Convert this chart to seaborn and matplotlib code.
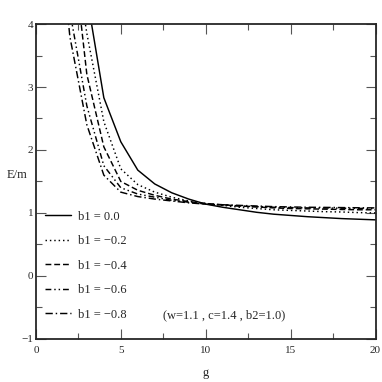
import seaborn as sns
import matplotlib.pyplot as plt
import pandas as pd

# values (E/m against g), above 4 is clipped by the axes
g = [1, 2, 3, 4, 5, 6, 7, 8, 9, 10, 11, 12, 13, 14, 15, 16, 17, 18, 19, 20]
b1_00 = [15.0, 7.0, 4.45, 2.83, 2.13, 1.68, 1.46, 1.32, 1.22, 1.14, 1.09, 1.05, 1.01, 0.98, 0.96, 0.94, 0.925, 0.91, 0.90, 0.89]
b1_02 = [12.0, 5.6, 3.85, 2.45, 1.70, 1.45, 1.33, 1.25, 1.19, 1.15, 1.12, 1.09, 1.07, 1.05, 1.04, 1.03, 1.02, 1.015, 1.005, 1.0]
b1_04 = [10.0, 5.6, 3.20, 2.05, 1.50, 1.36, 1.28, 1.22, 1.18, 1.15, 1.13, 1.11, 1.095, 1.08, 1.07, 1.065, 1.06, 1.055, 1.05, 1.05]
b1_06 = [8.0, 4.2, 2.70, 1.75, 1.40, 1.30, 1.25, 1.20, 1.17, 1.14, 1.125, 1.11, 1.10, 1.09, 1.085, 1.08, 1.078, 1.075, 1.072, 1.07]
b1_08 = [6.5, 3.8, 2.40, 1.60, 1.33, 1.26, 1.22, 1.19, 1.16, 1.14, 1.13, 1.12, 1.11, 1.10, 1.095, 1.09, 1.088, 1.085, 1.082, 1.08]
labels = ["b1 = 0.0", "b1 = \u22120.2", "b1 = \u22120.4", "b1 = \u22120.6", "b1 = \u22120.8"]

rows = []
for lab, vals in zip(labels, [b1_00, b1_02, b1_04, b1_06, b1_08]):
    for gi, v in zip(g, vals):
        rows.append({"g": gi, "E/m": v, "b1": lab})
df = pd.DataFrame(rows)

sns.set_style("ticks")
plt.rcParams["font.family"] = ["Liberation Serif", "DejaVu Serif"]
plt.rcParams["axes.linewidth"] = 1.3

fig = plt.figure(figsize=(3.82, 3.82), dpi=100)
ax = fig.add_axes([0.094, 0.113, 0.889, 0.824])

dashes = {
    labels[0]: "",
    labels[1]: (1, 2),
    labels[2]: (4, 2),
    labels[3]: (4, 2, 1, 2, 1, 2),
    labels[4]: (5, 2, 1, 2),
}
sns.lineplot(data=df, x="g", y="E/m", hue="b1", style="b1",
             palette=["black"] * 5, dashes=dashes, linewidth=1.05, ax=ax)

ax.set_xlim(0, 20)
ax.set_ylim(-1, 4)
ax.set_xticks([0, 5, 10, 15, 20])
ax.set_xticks([2.5, 7.5, 12.5, 17.5], minor=True)
ax.set_yticks([-1, 0, 1, 2, 3, 4])
ax.set_yticks([-0.5, 0.5, 1.5, 2.5, 3.5], minor=True)
ax.tick_params(which="both", direction="in", top=True, right=True, labelsize=8, pad=2)
ax.tick_params(axis="x", which="major", pad=5)
ax.tick_params(which="major", length=7, width=0.8, color="#555555")
ax.tick_params(which="minor", length=4, width=0.8, color="#555555")

ax.set_xlabel("g", fontsize=9, labelpad=9)
ax.set_ylabel("E/m", fontsize=9, rotation=0)
ax.yaxis.set_label_coords(-0.055, 0.5)

ax.legend(loc="lower left", bbox_to_anchor=(0.0, 0.03), frameon=False, fontsize=9,
          handlelength=2.1, handletextpad=0.6, labelspacing=1.0, borderaxespad=0.3)
ax.text(7.5, -0.62, "(w=1.1 , c=1.4 , b2=1.0)", fontsize=9, va="center")

fig.savefig("out.png", dpi=100)
